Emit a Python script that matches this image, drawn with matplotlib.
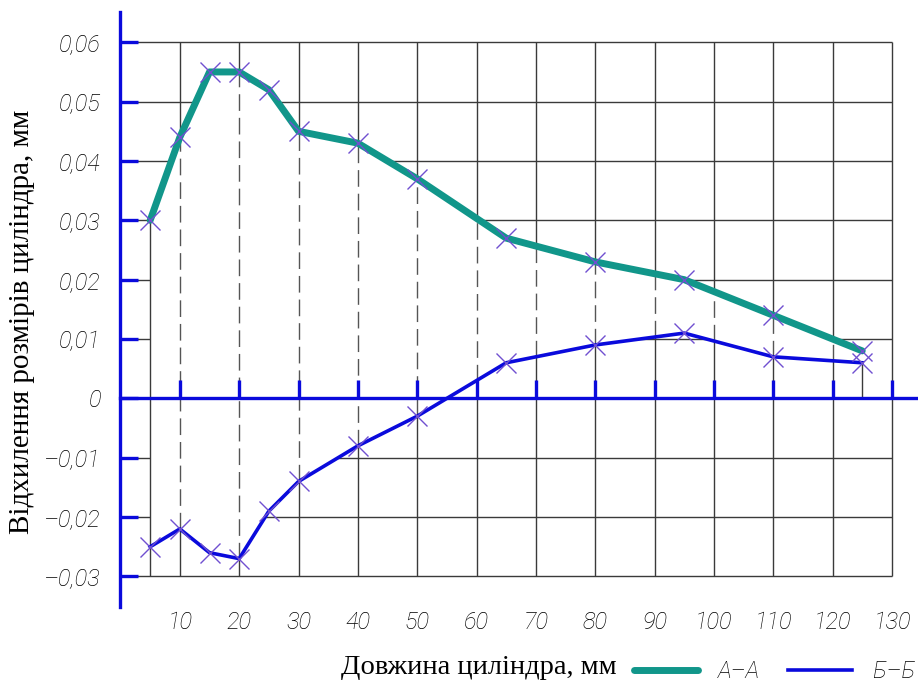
import numpy as np
import matplotlib.pyplot as plt

# відхилення по перерізах А-А та Б-Б
x_pts = [5, 10, 15, 20, 25, 30, 40, 50, 65, 80, 95, 110, 125]
aa = [0.030, 0.044, 0.055, 0.055, 0.052, 0.045, 0.043, 0.037, 0.027, 0.023, 0.020, 0.014, 0.008]
bb = [-0.025, -0.022, -0.026, -0.027, -0.019, -0.014, -0.008, -0.003, 0.006, 0.009, 0.011, 0.007, 0.006]

x_ticks = list(range(10, 140, 10))
y_ticks = [-0.03, -0.02, -0.01, 0.0, 0.01, 0.02, 0.03, 0.04, 0.05, 0.06]
y_labels = ['–0,03', '–0,02', '–0,01', '0', '0,01', '0,02', '0,03', '0,04', '0,05', '0,06']

teal = '#11968a'
blue = '#0a0adc'
purple = '#7050d0'
grid_c = '#3a3a3a'
text_c = '#000000'

plt.rcParams['font.family'] = ['Roboto', 'DejaVu Sans']
plt.rcParams['font.style'] = 'italic'
plt.rcParams['font.weight'] = 'light'

fig = plt.figure(figsize=(9.18, 6.84), dpi=100)
ax = fig.add_axes([120.5 / 918, 1 - 606.7 / 684, 1 - 120.5 / 918, (606.7 - 12) / 684])
ax.set_xlim(0, 134.4)
ax.set_ylim(-0.0351, 0.0651)
ax.set_axisbelow(False)

# сітка
ax.hlines([t for t in y_ticks if t != 0], 0, x_ticks[-1], color=grid_c, lw=1, zorder=1)
ax.vlines(x_ticks, y_ticks[0], y_ticks[-1], color=grid_c, lw=1, zorder=1)

# область між кривими без сітки, з пунктиром
ax.fill_between(x_pts, aa, bb, color='white', lw=0, zorder=1.5)
for xt in x_ticks:
    if x_pts[0] < xt < x_pts[-1]:
        top = np.interp(xt, x_pts, aa)
        bot = np.interp(xt, x_pts, bb)
        ax.vlines(xt, bot, top, color='#555555', lw=1, linestyles=(0, (12, 5)), zorder=1.8)
ax.vlines(x_pts[0], y_ticks[0], aa[0], color=grid_c, lw=1, zorder=1.8)
ax.vlines(x_pts[-1], 0, bb[-1], color=grid_c, lw=1, zorder=1.8)

# осі
for s in ['top', 'right']:
    ax.spines[s].set_visible(False)
ax.spines['left'].set_color(blue)
ax.spines['left'].set_linewidth(2.4)
ax.spines['bottom'].set_color(blue)
ax.spines['bottom'].set_linewidth(2.4)
ax.spines['bottom'].set_position(('data', 0))

ax.set_yticks(y_ticks)
ax.set_yticklabels(y_labels)
ax.tick_params(axis='y', direction='in', length=13, width=2.4, color=blue,
               pad=14, labelsize=17, labelcolor=text_c)
ax.set_xticks(x_ticks)
ax.tick_params(axis='x', direction='in', length=13, width=2.4, color=blue, labelbottom=False)

sec = ax.secondary_xaxis('bottom')
sec.set_xticks(x_ticks)
sec.set_xticklabels([str(t) for t in x_ticks])
sec.spines['bottom'].set_visible(False)
sec.tick_params(length=0, pad=3, labelsize=17, labelcolor=text_c)

# криві
la, = ax.plot(x_pts, aa, color=teal, lw=5, solid_capstyle='round', zorder=5)
lb, = ax.plot(x_pts, bb, color=blue, lw=2.6, zorder=5)
ax.plot(x_pts, aa, 'x', ms=15, mew=1, color=purple, zorder=6)
ax.plot(x_pts, bb, 'x', ms=15, mew=1, color=purple, zorder=6)

leg = fig.legend([la, lb], ['А–А', 'Б–Б'], loc='center left', bbox_to_anchor=(634 / 918, 1 - 672 / 684),
                 ncol=2, frameon=False, fontsize=17, handlelength=2.7, handletextpad=0.85,
                 columnspacing=1.2, borderpad=0, borderaxespad=0)
for t in leg.get_texts():
    t.set_color(text_c)

fig.text(479 / 918, 1 - 667 / 684, 'Довжина циліндра, мм', family='Liberation Serif',
         style='normal', weight='normal', fontsize=20.5, ha='center', va='center')
fig.text(22 / 918, 1 - 322 / 684, 'Відхилення розмірів циліндра, мм', family='Liberation Serif',
         style='normal', weight='normal', fontsize=21, rotation=90, ha='center', va='center')

fig.savefig('out.png', dpi=100)
